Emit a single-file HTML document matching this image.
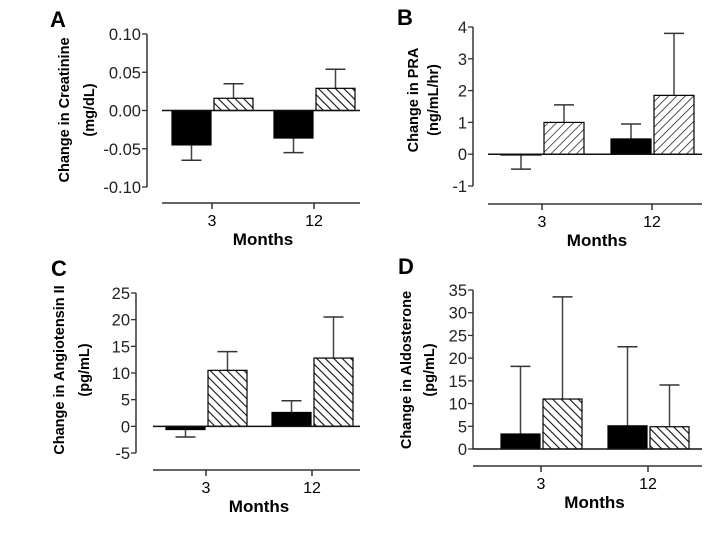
<!DOCTYPE html>
<html><head><meta charset="utf-8"><style>
html,body{margin:0;padding:0;background:#fff;}
svg{display:block;font-family:"Liberation Sans",Arial,sans-serif;}
</style></head><body>
<svg id="fig" width="720" height="540" viewBox="0 0 720 540">
<defs>
<pattern id="hb" patternUnits="userSpaceOnUse" width="6" height="6" patternTransform="rotate(-45)"><rect width="6" height="6" fill="#fff"/><line x1="0" y1="0" x2="0" y2="6" stroke="#111" stroke-width="2.2"/></pattern>
<pattern id="hf" patternUnits="userSpaceOnUse" width="6" height="6" patternTransform="rotate(45)"><rect width="6" height="6" fill="#fff"/><line x1="0" y1="0" x2="0" y2="6" stroke="#111" stroke-width="1.4"/></pattern>
</defs>
</svg>
<script>
const categories = ["3","12"];
const creatBlack = [-0.045,-0.036], creatBlackErr = [-0.065,-0.055];
const creatHatch = [0.016,0.029], creatHatchErr = [0.035,0.054];
const creatTicks = ["0.10","0.05","0.00","-0.05","-0.10"];
const praBlack = [0,0.48], praBlackErr = [-0.47,0.95];
const praHatch = [1.0,1.85], praHatchErr = [1.55,3.8];
const praTicks = ["4","3","2","1","0","-1"];
const angBlack = [-0.6,2.6], angBlackErr = [-2,4.8];
const angHatch = [10.5,12.8], angHatchErr = [14,20.5];
const angTicks = ["25","20","15","10","5","0","-5"];
const aldoBlack = [3.3,5.1], aldoBlackErr = [18.2,22.5];
const aldoHatch = [11,4.9], aldoHatchErr = [33.5,14.1];
const aldoTicks = ["35","30","25","20","15","10","5","0"];

const NS="http://www.w3.org/2000/svg";
const svg=document.getElementById('fig');
function mk(tag,attrs,parent){const e=document.createElementNS(NS,tag);for(const k in attrs)e.setAttribute(k,attrs[k]);(parent||svg).appendChild(e);return e;}

const panels=[
 {key:"a",letter:"A",lx:50,ly:27,ax:147,yTop:34,yBot:187,vmax:0.10,vmin:-0.10,ticks:creatTicks,z0:162,z1:360,xAxisY:203,cx:[212,314],
  t1:"Change in Creatinine",t2:"(mg/dL)",tx1:63,tx2:88,tcy:110,black:creatBlack,bErr:creatBlackErr,hatch:creatHatch,hErr:creatHatchErr,pat:"hb",bw:39},
 {key:"b",letter:"B",lx:397,ly:25,ax:473,yTop:27,yBot:186,vmax:4,vmin:-1,ticks:praTicks,z0:488,z1:702,xAxisY:204,cx:[542,652],
  t1:"Change in PRA",t2:"(ng/mL/hr)",tx1:412,tx2:432,tcy:100,black:praBlack,bErr:praBlackErr,hatch:praHatch,hErr:praHatchErr,pat:"hf",bw:40},
 {key:"c",letter:"C",lx:51,ly:276,ax:136,yTop:293,yBot:453,vmax:25,vmin:-5,ticks:angTicks,z0:153,z1:360,xAxisY:470,cx:[206,312],
  t1:"Change in Angiotensin II",t2:"(pg/mL)",tx1:58,tx2:83,tcy:370,black:angBlack,bErr:angBlackErr,hatch:angHatch,hErr:angHatchErr,pat:"hb",bw:39},
 {key:"d",letter:"D",lx:398,ly:274,ax:473,yTop:290,yBot:449,vmax:35,vmin:0,ticks:aldoTicks,z0:473,z1:702,xAxisY:466,cx:[541,648],
  t1:"Change in Aldosterone",t2:"(pg/mL)",tx1:405,tx2:428,tcy:370,black:aldoBlack,bErr:aldoBlackErr,hatch:aldoHatch,hErr:aldoHatchErr,pat:"hb",bw:39}
];

panels.forEach(p=>{
 const g=mk('g',{});
 
 
 const y=v=>p.yTop+(p.vmax-v)/(p.vmax-p.vmin)*(p.yBot-p.yTop);
 const L=mk('text',{x:p.lx,y:p.ly,'font-size':22,'font-weight':'bold'},g);L.textContent=p.letter;
 
 
 const ya=mk('line',{x1:p.ax,y1:p.yTop,x2:p.ax,y2:p.yBot,stroke:'#333','stroke-width':1.5},g);
 
 
 const n=p.ticks.length;
 p.ticks.forEach((t,i)=>{
  const v=p.vmax-(p.vmax-p.vmin)*i/(n-1), yy=y(v);
  mk('line',{x1:p.ax-5,y1:yy,x2:p.ax,y2:yy,stroke:'#333','stroke-width':1.3},g);
  const tx=mk('text',{x:p.ax-6,y:yy+6,'font-size':16.5,'text-anchor':'end',fill:'#222'},g);tx.textContent=t;
  
  
 });
 const tt=mk('text',{transform:`translate(${p.tx1+6},${p.tcy}) rotate(-90)`,'font-size':14.5,'font-weight':'bold','text-anchor':'middle'},g);tt.textContent=p.t1;
 
 
 const tt2=mk('text',{transform:`translate(${p.tx2+6},${p.tcy}) rotate(-90)`,'font-size':14.5,'font-weight':'bold','text-anchor':'middle'},g);tt2.textContent=p.t2;
 
 
 const xa=mk('line',{x1:p.z0,y1:p.xAxisY,x2:p.z1,y2:p.xAxisY,stroke:'#333','stroke-width':1.5},g);
 
 
 categories.forEach((c,i)=>{
  mk('line',{x1:p.cx[i],y1:p.xAxisY,x2:p.cx[i],y2:p.xAxisY+6,stroke:'#333','stroke-width':1.5},g);
  const ct=mk('text',{x:p.cx[i],y:p.xAxisY+23,'font-size':16,'text-anchor':'middle'},g);ct.textContent=c;
  
  
  const series=[[p.black,p.bErr,'#000',p.cx[i]-p.bw-1],[p.hatch,p.hErr,`url(#${p.pat})`,p.cx[i]+2]];
  series.forEach(([vals,errs,fill,x0],si)=>{
   const v=vals[i],e=errs[i],y0=y(0),yv=y(v),xm=x0+p.bw/2;
   mk('line',{x1:xm,y1:yv,x2:xm,y2:y(e),stroke:'#444','stroke-width':1.5},g);
   mk('line',{x1:xm-10,y1:y(e),x2:xm+10,y2:y(e),stroke:'#333','stroke-width':1.5},g);
   const r=mk('rect',{x:x0,y:Math.min(y0,yv),width:p.bw,height:Math.max(Math.abs(yv-y0),0.8),fill:fill,stroke:'#000','stroke-width':1.2},g);
   
   
  });
 });
 mk('line',{x1:p.z0,y1:y(0),x2:p.z1,y2:y(0),stroke:'#111','stroke-width':1.5},g);
 const mt=mk('text',{x:(p.cx[0]+p.cx[1])/2,y:p.xAxisY+42,'font-size':17,'font-weight':'bold','text-anchor':'middle'},g);mt.textContent="Months";
 
 
});
</script>
</body></html>
